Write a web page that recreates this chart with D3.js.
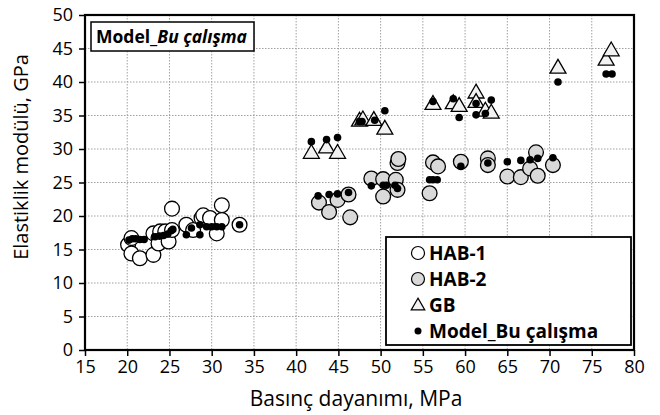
<!DOCTYPE html>
<html>
<head>
<meta charset="utf-8">
<script src="https://cdn.jsdelivr.net/npm/d3@7"></script>
<style>
  body { margin: 0; background: #fff; }
  svg { display: block; font-family: "Open Sans", "Liberation Sans", sans-serif; }
</style>
</head>
<body>
<svg id="chart" width="660" height="415"></svg>
<script>
// Compressive strength (MPa) vs. elastic modulus (GPa)
const hab1X = [20.1, 20.5, 20.5, 21.5, 23.1, 23.1, 23.7, 23.7, 23.9, 24.5, 24.9, 25.3, 25.3, 27.0, 27.8, 28.8, 29.0, 29.8, 30.6, 31.2, 31.2, 33.3];
const hab1Y = [15.7, 16.7, 14.4, 13.7, 14.2, 17.4, 16.7, 15.9, 17.7, 17.7, 16.2, 21.1, 17.9, 18.7, 17.9, 19.7, 20.1, 19.7, 17.4, 21.6, 19.4, 18.7];

const hab2X = [42.7, 43.9, 44.9, 46.2, 46.4, 48.9, 50.3, 50.3, 51.8, 52.0, 52.0, 52.1, 55.8, 56.2, 56.8, 59.5, 62.7, 62.7, 65.0, 66.6, 67.7, 68.4, 68.6, 70.4];
const hab2Y = [22.0, 20.6, 22.4, 23.2, 19.8, 25.6, 25.5, 22.9, 25.4, 23.9, 27.9, 28.5, 23.4, 28.0, 27.4, 28.1, 28.6, 27.6, 25.9, 25.8, 27.1, 29.5, 26.0, 27.6];

const gbX = [41.8, 43.6, 44.9, 47.5, 47.9, 49.2, 50.5, 56.2, 58.6, 59.3, 61.3, 61.3, 62.4, 63.1, 71.0, 76.7, 77.3];
const gbY = [29.3, 30.1, 29.3, 34.1, 34.3, 34.2, 32.9, 36.6, 36.7, 36.3, 38.3, 36.9, 35.6, 35.3, 42.0, 43.2, 44.6];

const modelX = [20.2, 20.6, 21.0, 21.5, 22.0, 23.3, 23.8, 24.3, 24.8, 25.2, 25.4, 27.0, 27.6, 28.6, 28.6, 29.4, 30.0, 30.6, 31.2, 33.3,
                41.8, 43.6, 44.9, 47.5, 47.8, 49.3, 50.5, 42.6, 43.9, 44.9, 46.2, 48.9, 50.3, 50.7, 51.7, 52.0,
                55.8, 56.2, 56.7, 56.2, 58.6, 59.3, 61.3, 61.3, 62.4, 63.1, 59.5, 62.7, 65.0, 66.6, 67.7, 68.6, 70.4, 71.0, 76.7, 77.4];
const modelY = [16.4, 16.6, 16.6, 16.5, 16.5, 16.9, 17.0, 17.1, 17.3, 17.8, 18.0, 17.2, 18.2, 17.2, 18.7, 18.4, 18.4, 18.4, 18.4, 18.7,
                31.1, 31.4, 31.7, 34.1, 34.1, 34.3, 35.7, 23.0, 23.2, 23.3, 23.5, 24.5, 24.6, 24.6, 24.6, 24.1,
                25.4, 25.4, 25.4, 37.1, 37.5, 34.7, 36.8, 35.1, 35.3, 37.3, 27.4, 27.9, 28.1, 28.3, 28.4, 28.6, 28.7, 40.0, 41.2, 41.2];

const xTicks = [15, 20, 25, 30, 35, 40, 45, 50, 55, 60, 65, 70, 75, 80];
const yTicks = [0, 5, 10, 15, 20, 25, 30, 35, 40, 45, 50];
const seriesNames = ["HAB-1", "HAB-2", "GB", "Model_Bu çalışma"];

const svg = d3.select("#chart");
const plotL = 85, plotR = 634, plotT = 15, plotB = 350;

const x = d3.scaleLinear().domain([15, 80]).range([plotL, plotR]);
const y = d3.scaleLinear().domain([0, 50]).range([plotB, plotT]);

// dotted grid
const grid = svg.append("g");
grid.selectAll("line.gx").data(xTicks.slice(1, -1)).join("line")
  .attr("x1", d => x(d)).attr("x2", d => x(d)).attr("y1", plotT).attr("y2", plotB)
  .attr("stroke", "#a0a0a0").attr("stroke-width", 1).attr("stroke-dasharray", "1.5,1.5");
grid.selectAll("line.gy").data(yTicks.slice(1, -1)).join("line")
  .attr("y1", d => y(d)).attr("y2", d => y(d)).attr("x1", plotL).attr("x2", plotR)
  .attr("stroke", "#a0a0a0").attr("stroke-width", 1).attr("stroke-dasharray", "1.5,1.5");

// axes
const xAxis = svg.append("g").attr("transform", `translate(0,${plotB})`)
  .call(d3.axisBottom(x).tickValues(xTicks).tickSize(6).tickPadding(4));
const yAxis = svg.append("g").attr("transform", `translate(${plotL},0)`)
  .call(d3.axisLeft(y).tickValues(yTicks).tickSize(6).tickPadding(6));
[xAxis, yAxis].forEach(g => {
  g.select(".domain").remove();
  g.selectAll(".tick line").attr("stroke", "#000").attr("stroke-width", 1.5);
  g.selectAll(".tick text").attr("font-size", 18).attr("fill", "#000")
    .attr("font-family", "'Open Sans', 'Liberation Sans', sans-serif");
});

// plot frame
svg.append("rect").attr("x", plotL).attr("y", plotT)
  .attr("width", plotR - plotL).attr("height", plotB - plotT)
  .attr("fill", "none").attr("stroke", "#000").attr("stroke-width", 2.2);

// axis titles
svg.append("text").attr("x", 356).attr("y", 406)
  .attr("text-anchor", "middle").attr("font-size", 21).text("Basınç dayanımı, MPa");
svg.append("text").attr("transform", "translate(28,157) rotate(-90)")
  .attr("text-anchor", "middle").attr("font-size", 20).text("Elastiklik modülü, GPa");

// markers
const pts = (xs, ys) => xs.map((v, i) => ({ x: v, y: ys[i] }));
const tri = d3.symbol().type(d3.symbolTriangle).size(110);

svg.append("g").selectAll("circle").data(pts(hab1X, hab1Y)).join("circle")
  .attr("cx", d => x(d.x)).attr("cy", d => y(d.y)).attr("r", 7.4)
  .attr("fill", "#fff").attr("stroke", "#000").attr("stroke-width", 1.3);

svg.append("g").selectAll("circle").data(pts(hab2X, hab2Y)).join("circle")
  .attr("cx", d => x(d.x)).attr("cy", d => y(d.y)).attr("r", 7.4)
  .attr("fill", "#d9d9d9").attr("stroke", "#000").attr("stroke-width", 1.3);

svg.append("g").selectAll("path").data(pts(gbX, gbY)).join("path")
  .attr("d", tri).attr("transform", d => `translate(${x(d.x)},${y(d.y)})`)
  .attr("fill", "#f2f2f2").attr("stroke", "#000").attr("stroke-width", 1.3);

svg.append("g").selectAll("circle").data(pts(modelX, modelY)).join("circle")
  .attr("cx", d => x(d.x)).attr("cy", d => y(d.y)).attr("r", 3.8)
  .attr("fill", "#000");

// title box
const tb = svg.append("g");
tb.append("rect").attr("x", 91).attr("y", 22).attr("width", 163).attr("height", 29)
  .attr("fill", "#fff").attr("stroke", "#000").attr("stroke-width", 1.5);
const tt = tb.append("text").attr("x", 96).attr("y", 43).attr("font-size", 17.5).attr("font-weight", "bold");
tt.append("tspan").text("Model_");
tt.append("tspan").attr("font-style", "italic").text("Bu çalışma");

// legend
const lg = svg.append("g");
lg.append("rect").attr("x", 386).attr("y", 237).attr("width", 245).attr("height", 108)
  .attr("fill", "#fff").attr("stroke", "#000").attr("stroke-width", 1.8);
const rows = [253, 279, 305, 331];
const sx = 418;
lg.append("circle").attr("cx", sx).attr("cy", rows[0]).attr("r", 6.5)
  .attr("fill", "#fff").attr("stroke", "#000").attr("stroke-width", 1.2);
lg.append("circle").attr("cx", sx).attr("cy", rows[1]).attr("r", 6.5)
  .attr("fill", "#d9d9d9").attr("stroke", "#000").attr("stroke-width", 1.2);
lg.append("path").attr("d", d3.symbol().type(d3.symbolTriangle).size(80))
  .attr("transform", `translate(${sx},${rows[2] + 1})`)
  .attr("fill", "#f2f2f2").attr("stroke", "#000").attr("stroke-width", 1.2);
lg.append("circle").attr("cx", sx).attr("cy", rows[3]).attr("r", 3.5).attr("fill", "#000");
lg.selectAll("text").data(seriesNames).join("text")
  .attr("x", 429).attr("y", (d, i) => rows[i] + 7)
  .attr("font-size", 19).attr("font-weight", "bold").text(d => d);
</script>
</body>
</html>
